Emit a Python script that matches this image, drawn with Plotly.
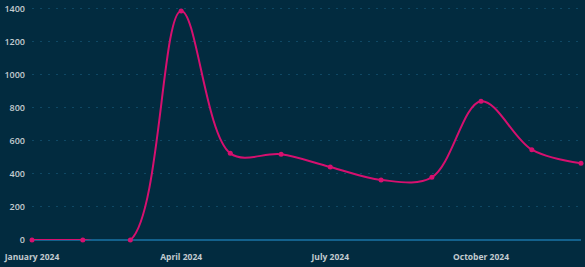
import plotly.graph_objects as go

months = ["2024-01-01", "2024-02-01", "2024-03-01", "2024-04-01", "2024-05-01", "2024-06-01",
          "2024-07-01", "2024-08-01", "2024-09-01", "2024-10-01", "2024-11-01", "2024-12-01"]
values = [0, 0, 0, 1388, 525, 519, 442, 364, 380, 841, 547, 465]
x_tick_vals = ["2024-01-01", "2024-04-01", "2024-07-01", "2024-10-01"]
x_tick_text = ["January 2024", "April 2024", "July 2024", "October 2024"]
y_tick_vals = [0, 200, 400, 600, 800, 1000, 1200, 1400]

BG = "#022b3f"
LINE = "#d6106f"
TXT = "#c3cbd0"

fig = go.Figure()
fig.add_trace(go.Scatter(
    x=months, y=values, mode="lines+markers",
    line=dict(color=LINE, width=2, shape="spline", smoothing=1.0),
    marker=dict(color=LINE, size=5),
    cliponaxis=False, showlegend=False,
))

fig.update_layout(
    width=585, height=267,
    margin=dict(l=32, r=4, t=1, b=27),
    paper_bgcolor=BG, plot_bgcolor=BG,
    font=dict(family="Open Sans", size=9, color=TXT),
    xaxis=dict(
        range=["2024-01-01", "2024-12-01"],
        tickvals=x_tick_vals, ticktext=x_tick_text,
        showgrid=False, zeroline=False, showline=False,
        tickfont=dict(family="Open Sans", size=8.5, color=TXT, weight=700),
        ticklabelstandoff=10, ticklabeloverflow="allow",
    ),
    yaxis=dict(
        range=[0, 1448],
        tickvals=y_tick_vals,
        showgrid=True, gridcolor="#0f4864", griddash="2px,6px", gridwidth=1,
        zeroline=True, zerolinecolor="#13618c", zerolinewidth=1.5,
        showline=False,
        tickfont=dict(family="Open Sans", size=9, color=TXT, weight=600),
        ticklabelstandoff=6,
    ),
)

fig.write_html("out.html")
